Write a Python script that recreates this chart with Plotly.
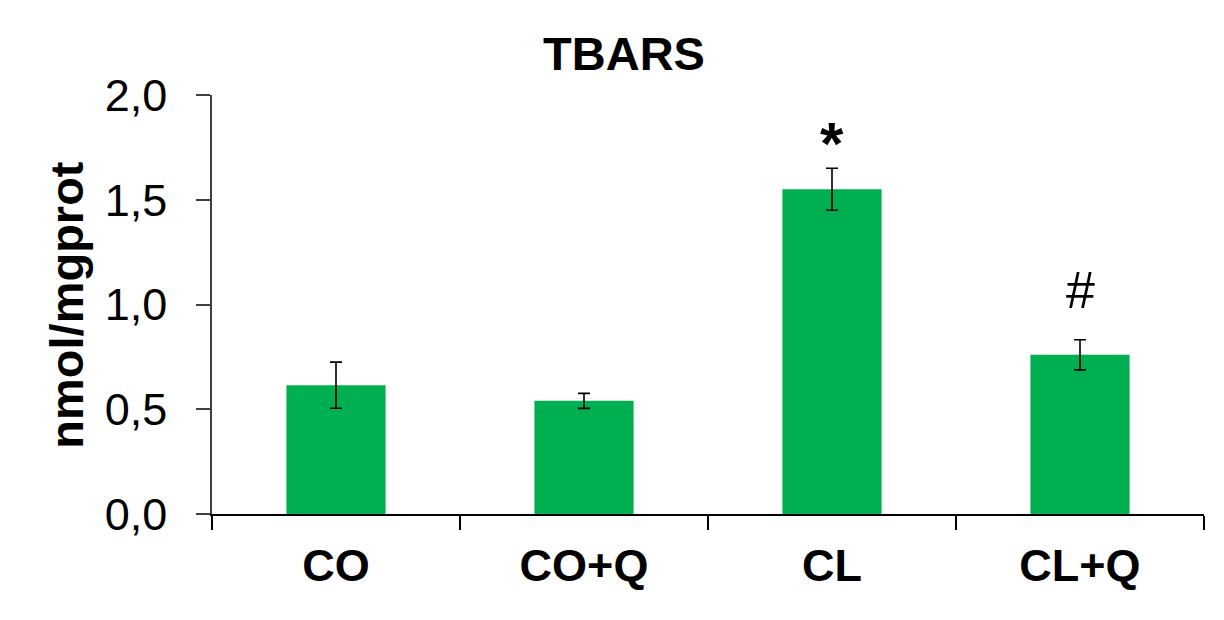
import plotly.graph_objects as go

categories = ["CO", "CO+Q", "CL", "CL+Q"]
values = [0.615, 0.54, 1.55, 0.76]
errors = [0.11, 0.036, 0.10, 0.072]
marks = ["", "", "*", "#"]
mark_y = [None, None, 1.77, 1.07]
y_ticks = [0.0, 0.5, 1.0, 1.5, 2.0]
y_tick_labels = ["0,0", "0,5", "1,0", "1,5", "2,0"]

FONT = "Arial, Liberation Sans, sans-serif"

fig = go.Figure()
fig.add_trace(go.Bar(
    x=categories, y=values, width=0.4,
    marker=dict(color="#00B050", line=dict(width=0)),
    error_y=dict(type="data", array=errors, visible=True,
                 color="black", thickness=1.6, width=6),
    showlegend=False,
))

for c, m, my in zip(categories, marks, mark_y):
    if m:
        fig.add_annotation(
            x=c, y=my, xref="x", yref="y", text=m, showarrow=False,
            font=dict(family=FONT, size=52 if m == "#" else 60, color="black",
                      weight="bold" if m == "*" else "normal"),
            yanchor="middle", xanchor="center",
        )

fig.add_annotation(
    x=-0.147, y=0.5, xref="paper", yref="paper", text="nmol/mgprot",
    textangle=-90, showarrow=False,
    font=dict(family=FONT, size=47, color="black", weight="bold"),
    xanchor="center", yanchor="middle",
)

fig.update_layout(
    width=1216, height=612,
    margin=dict(l=204, r=20, t=87, b=106),
    paper_bgcolor="white", plot_bgcolor="white",
    title=dict(text="<b>TBARS</b>", x=616 / 1216, xref="container", xanchor="center",
               y=1 - 46 / 612, yref="container", yanchor="middle",
               font=dict(family=FONT, size=47, color="black")),
    bargap=0.6,
)
fig.update_xaxes(
    showline=True, linecolor="black", linewidth=2,
    ticks="outside", ticklen=14, tickwidth=1.5, tickcolor="black",
    tickson="boundaries", ticklabelstandoff=11,
    tickfont=dict(family=FONT, size=45, color="black", weight="bold"),
    showgrid=False, zeroline=False,
)
fig.update_yaxes(
    range=[0, 2], tickvals=y_ticks, ticktext=y_tick_labels,
    showline=True, linecolor="#404040", linewidth=1.5,
    ticks="outside", ticklen=14, tickwidth=1.5, tickcolor="#404040",
    ticklabelstandoff=20,
    tickfont=dict(family=FONT, size=45, color="black"),
    showgrid=False, zeroline=False,
)

fig.write_html("out.html")
